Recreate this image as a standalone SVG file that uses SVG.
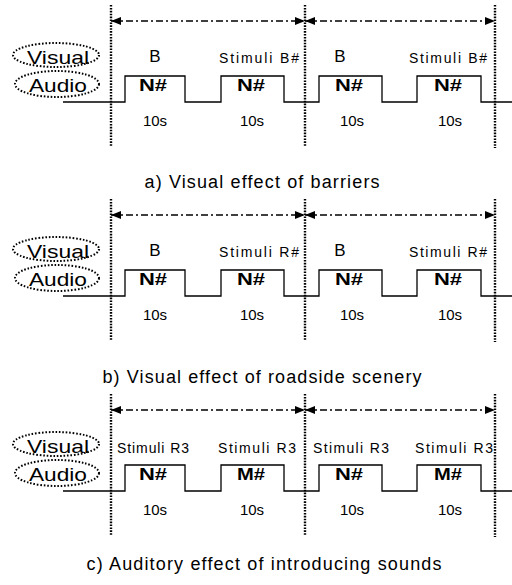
<svg xmlns="http://www.w3.org/2000/svg" width="512" height="585" viewBox="0 0 512 585">
<style>
.dot{stroke:#000;stroke-width:2.4;stroke-dasharray:1.6 1.3;fill:none}
.ell{stroke:#000;stroke-width:2;stroke-dasharray:1.6 1.8;fill:none}
.sig{stroke:#000;stroke-width:1.3;fill:none}
.arr{stroke:#000;stroke-width:1.4;stroke-dasharray:7 3 2 3;fill:none;marker-start:url(#ah);marker-end:url(#ah)}
text{font-family:"Liberation Sans",Arial,sans-serif;fill:#000}
.lbl{font-size:19px;text-anchor:middle}
.stim{font-size:14px;text-anchor:middle}
.big{font-size:17px;text-anchor:middle}
.n{font-size:16px;font-weight:bold;text-anchor:middle}
.t{font-size:15px;text-anchor:middle}
.cap{font-size:18px;text-anchor:middle}
</style>
<defs>
<marker id="ah" viewBox="0 0 10 8" refX="10" refY="4" markerWidth="10" markerHeight="8" markerUnits="userSpaceOnUse" orient="auto-start-reverse">
<path d="M0,0 L10,4 L0,8 z" fill="#000"/>
</marker>
</defs>

<!-- Panel a -->
<g id="panel-a">
 <g id="a-visual"><ellipse class="ell" cx="56" cy="55" rx="43" ry="12"/><text class="lbl" x="58" y="64" textLength="62" lengthAdjust="spacingAndGlyphs">Visual</text></g>
 <g id="a-audio"><ellipse class="ell" cx="57" cy="84" rx="42" ry="13"/><text class="lbl" x="58" y="92" textLength="58" lengthAdjust="spacingAndGlyphs">Audio</text></g>
 <g id="a-connectors">
  <line class="dot" x1="111" y1="5" x2="111" y2="146"/>
  <line class="dot" x1="305" y1="5" x2="305" y2="146"/>
  <line class="dot" x1="495" y1="5" x2="495" y2="148"/>
  <line class="arr" x1="111" y1="21" x2="305" y2="21"/>
  <line class="arr" x1="305" y1="21" x2="495" y2="21"/>
  <path class="sig" d="M63,102 H125 V76 H185 V102 H221 V76 H284 V102 H319 V76 H382 V102 H417 V76 H481 V102 H512"/>
 </g>
 <g id="a-seg1"><text class="big" x="155" y="62">B</text><text class="n" x="153" y="91" textLength="28" lengthAdjust="spacingAndGlyphs">N#</text><text class="t" x="155" y="126">10s</text></g>
 <g id="a-seg2"><text class="stim" x="259" y="63" textLength="80" lengthAdjust="spacing">Stimuli B#</text><text class="n" x="251" y="91" textLength="28" lengthAdjust="spacingAndGlyphs">N#</text><text class="t" x="252" y="126">10s</text></g>
 <g id="a-seg3"><text class="big" x="340" y="62">B</text><text class="n" x="349" y="91" textLength="28" lengthAdjust="spacingAndGlyphs">N#</text><text class="t" x="352" y="126">10s</text></g>
 <g id="a-seg4"><text class="stim" x="448" y="63" textLength="78" lengthAdjust="spacing">Stimuli B#</text><text class="n" x="448" y="91" textLength="28" lengthAdjust="spacingAndGlyphs">N#</text><text class="t" x="450" y="126">10s</text></g>
 <text id="a-caption" class="cap" x="262" y="188" textLength="235" lengthAdjust="spacing">a) Visual effect of barriers</text>
</g>

<!-- Panel b -->
<g id="panel-b" transform="translate(0,194)">
 <g id="b-visual"><ellipse class="ell" cx="56" cy="55" rx="43" ry="12"/><text class="lbl" x="58" y="64" textLength="62" lengthAdjust="spacingAndGlyphs">Visual</text></g>
 <g id="b-audio"><ellipse class="ell" cx="57" cy="84" rx="42" ry="13"/><text class="lbl" x="58" y="92" textLength="58" lengthAdjust="spacingAndGlyphs">Audio</text></g>
 <g id="b-connectors">
  <line class="dot" x1="111" y1="5" x2="111" y2="146"/>
  <line class="dot" x1="305" y1="5" x2="305" y2="146"/>
  <line class="dot" x1="495" y1="5" x2="495" y2="148"/>
  <line class="arr" x1="111" y1="21" x2="305" y2="21"/>
  <line class="arr" x1="305" y1="21" x2="495" y2="21"/>
  <path class="sig" d="M63,102 H125 V76 H185 V102 H221 V76 H284 V102 H319 V76 H382 V102 H417 V76 H481 V102 H512"/>
 </g>
 <g id="b-seg1"><text class="big" x="155" y="62">B</text><text class="n" x="153" y="91" textLength="28" lengthAdjust="spacingAndGlyphs">N#</text><text class="t" x="155" y="126">10s</text></g>
 <g id="b-seg2"><text class="stim" x="259" y="63" textLength="80" lengthAdjust="spacing">Stimuli R#</text><text class="n" x="251" y="91" textLength="28" lengthAdjust="spacingAndGlyphs">N#</text><text class="t" x="252" y="126">10s</text></g>
 <g id="b-seg3"><text class="big" x="340" y="62">B</text><text class="n" x="349" y="91" textLength="28" lengthAdjust="spacingAndGlyphs">N#</text><text class="t" x="352" y="126">10s</text></g>
 <g id="b-seg4"><text class="stim" x="448" y="63" textLength="78" lengthAdjust="spacing">Stimuli R#</text><text class="n" x="448" y="91" textLength="28" lengthAdjust="spacingAndGlyphs">N#</text><text class="t" x="450" y="126">10s</text></g>
 <text id="b-caption" class="cap" x="262" y="189" textLength="319" lengthAdjust="spacing">b) Visual effect of roadside scenery</text>
</g>

<!-- Panel c -->
<g id="panel-c" transform="translate(0,389)">
 <g id="c-visual"><ellipse class="ell" cx="56" cy="55" rx="43" ry="12"/><text class="lbl" x="58" y="64" textLength="62" lengthAdjust="spacingAndGlyphs">Visual</text></g>
 <g id="c-audio"><ellipse class="ell" cx="57" cy="84" rx="42" ry="13"/><text class="lbl" x="58" y="92" textLength="58" lengthAdjust="spacingAndGlyphs">Audio</text></g>
 <g id="c-connectors">
  <line class="dot" x1="111" y1="5" x2="111" y2="146"/>
  <line class="dot" x1="305" y1="5" x2="305" y2="146"/>
  <line class="dot" x1="495" y1="5" x2="495" y2="148"/>
  <line class="arr" x1="111" y1="21" x2="305" y2="21"/>
  <line class="arr" x1="305" y1="21" x2="495" y2="21"/>
  <path class="sig" d="M63,102 H125 V76 H185 V102 H221 V76 H284 V102 H319 V76 H382 V102 H417 V76 H481 V102 H512"/>
 </g>
 <g id="c-seg1"><text class="stim" x="153" y="64" textLength="72" lengthAdjust="spacing">Stimuli R3</text><text class="n" x="153" y="91" textLength="28" lengthAdjust="spacingAndGlyphs">N#</text><text class="t" x="155" y="126">10s</text></g>
 <g id="c-seg2"><text class="stim" x="257" y="64" textLength="78" lengthAdjust="spacing">Stimuli R3</text><text class="n" x="251" y="91" textLength="28" lengthAdjust="spacingAndGlyphs">M#</text><text class="t" x="252" y="126">10s</text></g>
 <g id="c-seg3"><text class="stim" x="351" y="64" textLength="76" lengthAdjust="spacing">Stimuli R3</text><text class="n" x="349" y="91" textLength="28" lengthAdjust="spacingAndGlyphs">N#</text><text class="t" x="352" y="126">10s</text></g>
 <g id="c-seg4"><text class="stim" x="454" y="64" textLength="78" lengthAdjust="spacing">Stimuli R3</text><text class="n" x="448" y="91" textLength="28" lengthAdjust="spacingAndGlyphs">M#</text><text class="t" x="450" y="126">10s</text></g>
 <text id="c-caption" class="cap" x="264" y="181" textLength="355" lengthAdjust="spacing">c) Auditory effect of introducing sounds</text>
</g>
</svg>
